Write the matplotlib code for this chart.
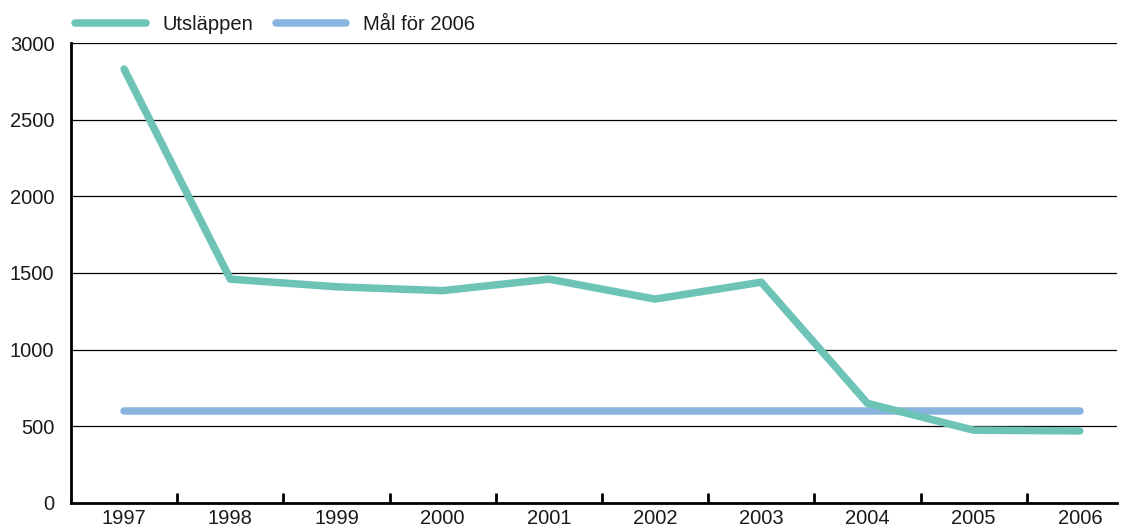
import matplotlib.pyplot as plt

years = ["1997", "1998", "1999", "2000", "2001", "2002", "2003", "2004", "2005", "2006"]
utslappen = [2830, 1460, 1410, 1385, 1460, 1330, 1440, 650, 475, 470]
mal_2006 = [600] * 10

plt.rcParams['font.family'] = ['Liberation Sans', 'DejaVu Sans']
plt.rcParams['text.color'] = '#1a1a1a'

fig = plt.figure(figsize=(11.25, 5.29), dpi=100)
ax = fig.add_axes([71 / 1125, 26 / 529, 1046 / 1125, 460 / 529])

x = list(range(len(years)))
l1, = ax.plot(x, utslappen, color="#6cc3b6", lw=5.4, solid_capstyle="round",
              solid_joinstyle="round", label="Utsläppen", zorder=3)
l2, = ax.plot(x, mal_2006, color="#8ab4e0", lw=5.4, solid_capstyle="round",
              label="Mål för 2006", zorder=2)

ax.set_ylim(0, 3000)
ax.set_xlim(-0.5, 9.35)
ax.set_yticks(range(0, 3001, 500))
for v in range(500, 3001, 500):
    ax.axhline(v, color="black", lw=0.9, zorder=1)

ax.set_xticks(x)
ax.set_xticklabels(years)
ax.set_xticks([i + 0.5 for i in range(9)], minor=True)
ax.tick_params(axis="x", which="major", length=0, pad=4, labelsize=14.5,
               labelcolor="#1a1a1a")
ax.tick_params(axis="x", which="minor", length=7, width=2, direction="in")
ax.tick_params(axis="y", length=0, pad=12, labelsize=14.5, labelcolor="#1a1a1a")

for s in ["top", "right"]:
    ax.spines[s].set_visible(False)
ax.spines["left"].set_linewidth(2)
ax.spines["bottom"].set_linewidth(2)

fig.legend(handles=[l1, l2], loc="upper left", bbox_to_anchor=(57 / 1125, 1.005),
           ncol=2, frameon=False, fontsize=14.5, handlelength=3.5,
           handletextpad=0.85, columnspacing=1.1)

fig.savefig("out.png", dpi=100)
